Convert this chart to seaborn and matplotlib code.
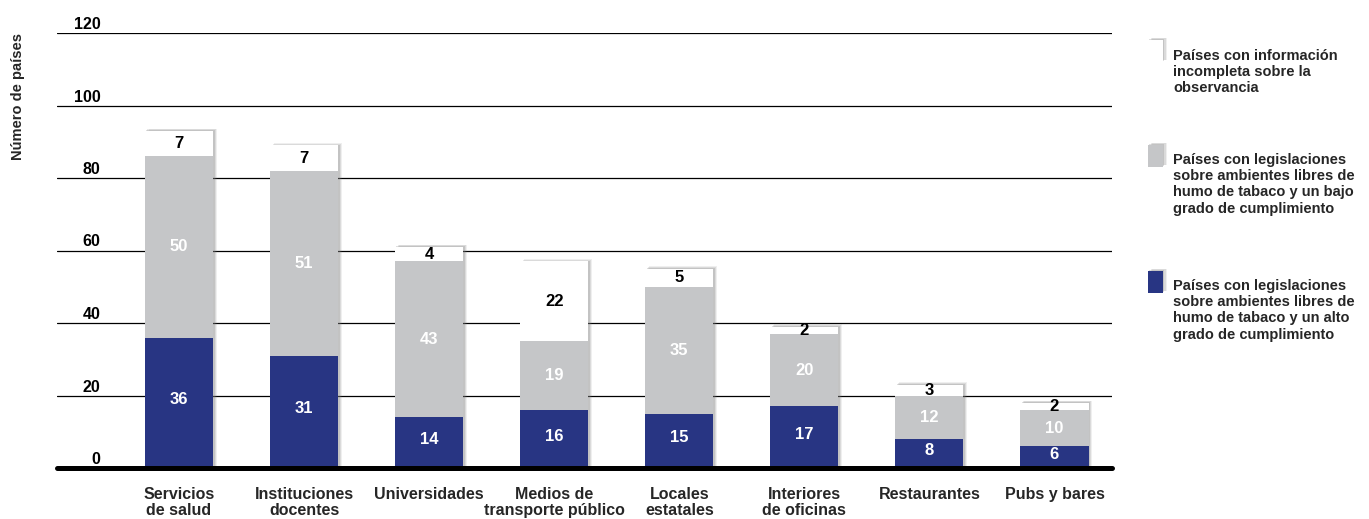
import matplotlib
matplotlib.use("Agg")
import matplotlib.pyplot as plt
import matplotlib.patheffects as pe
import matplotlib.transforms as mtransforms
from matplotlib.patches import Rectangle
import seaborn as sns
import pandas as pd
import numpy as np

categories = ["Servicios\nde salud", "Instituciones\ndocentes", "Universidades",
              "Medios de\ntransporte público", "Locales\nestatales",
              "Interiores\nde oficinas", "Restaurantes", "Pubs y bares"]
alto = [36, 31, 14, 16, 15, 17, 8, 6]
bajo = [50, 51, 43, 19, 35, 20, 12, 10]
incompleta = [7, 7, 4, 22, 5, 2, 3, 2]
yticks = [0, 20, 40, 60, 80, 100, 120]
legend_labels = ["Países con información\nincompleta sobre la\nobservancia",
                 "Países con legislaciones\nsobre ambientes libres de\nhumo de tabaco y un bajo\ngrado de cumplimiento",
                 "Países con legislaciones\nsobre ambientes libres de\nhumo de tabaco y un alto\ngrado de cumplimiento"]

BLUE = "#283583"
GRAY = "#c5c6c8"
WHITE = "#ffffff"

sns.set_style("white")
plt.rcParams['font.family'] = ['Liberation Sans Narrow', 'Liberation Sans', 'DejaVu Sans']
plt.rcParams['font.weight'] = 'bold'

df = pd.DataFrame({"cat": categories, "alto": alto, "bajo": bajo, "inc": incompleta})
df["lowmid"] = df["alto"] + df["bajo"]
df["total"] = df["lowmid"] + df["inc"]

W, H = 1369, 519
fig = plt.figure(figsize=(W / 100, H / 100), dpi=100)
ax = fig.add_axes([57 / W, 1 - 468 / H, 1055 / W, 435 / H])

bw = 0.545
shadow = [pe.SimplePatchShadow(offset=(2.6, 1.6), shadow_rgbFace=(0.5, 0.5, 0.5), alpha=0.12),
          pe.SimplePatchShadow(offset=(1.8, 1.1), shadow_rgbFace=(0.5, 0.5, 0.5), alpha=0.18),
          pe.SimplePatchShadow(offset=(1.0, 0.6), shadow_rgbFace=(0.5, 0.5, 0.5), alpha=0.25),
          pe.Normal()]
sns.barplot(data=df, x="cat", y="total", color=WHITE, width=bw, saturation=1, ax=ax,
            linewidth=0, zorder=3)
for p in ax.patches:
    p.set_path_effects(shadow)
sns.barplot(data=df, x="cat", y="lowmid", color=GRAY, width=bw, saturation=1, ax=ax,
            linewidth=0, zorder=4)
sns.barplot(data=df, x="cat", y="alto", color=BLUE, width=bw, saturation=1, ax=ax,
            linewidth=0, zorder=5)

ax.set_xlim(-0.976, 7.46)
ax.set_ylim(0, 120)
ax.set_yticks(yticks)
ax.set_yticklabels([])
ax.yaxis.grid(True, color="black", linewidth=0.9)
ax.set_axisbelow(True)
for s in ax.spines.values():
    s.set_visible(False)
ax.tick_params(axis="both", length=0)
ax.set_xlabel("")
ax.set_ylabel("")
ax.set_xticks(range(len(categories)))
ax.set_xticklabels(categories, fontsize=11.5, fontweight="bold", linespacing=1.05)
ax.tick_params(axis="x", pad=14)
ax.axhline(0, color="black", linewidth=3.6, zorder=10, clip_on=False)

# y tick labels above gridlines
trans = mtransforms.offset_copy(mtransforms.blended_transform_factory(ax.transAxes, ax.transData),
                                fig=fig, x=0, y=4, units="dots")
for v in yticks:
    ax.text(0.041, v, str(v), transform=trans, ha="right", va="baseline",
            fontsize=11.5, fontweight="bold", color="black")

# value labels
for i in range(len(categories)):
    a, b, c = alto[i], bajo[i], incompleta[i]
    ax.text(i, a / 2 + 0.8, str(a), ha="center", va="center", color="white", fontsize=12, fontweight="bold", zorder=12)
    ax.text(i, a + b / 2, str(b), ha="center", va="center", color="white", fontsize=12, fontweight="bold", zorder=12)
    ax.text(i, a + b + c / 2, str(c), ha="center", va="center", color="black", fontsize=12, fontweight="bold", zorder=12)

fig.text(18 / W, 1 - 97 / H, "Número de países", rotation=90, ha="center", va="center",
         fontsize=10.5, fontweight="bold")

# legend
leg_colors = [WHITE, GRAY, BLUE]
sq_top = [40, 145, 271]
txt_top = [49, 153, 279]
for col, st, tt, lab in zip(leg_colors, sq_top, txt_top, legend_labels):
    r = Rectangle((1148 / W, 1 - (st + 22) / H), 15 / W, 22 / H, transform=fig.transFigure,
                  facecolor=col, edgecolor="none", path_effects=shadow)
    fig.add_artist(r)
    fig.text(1173 / W, 1 - tt / H, lab, ha="left", va="top", fontsize=10.5, fontweight="bold",
             linespacing=1.2)

fig.savefig("out.png", dpi=100)
